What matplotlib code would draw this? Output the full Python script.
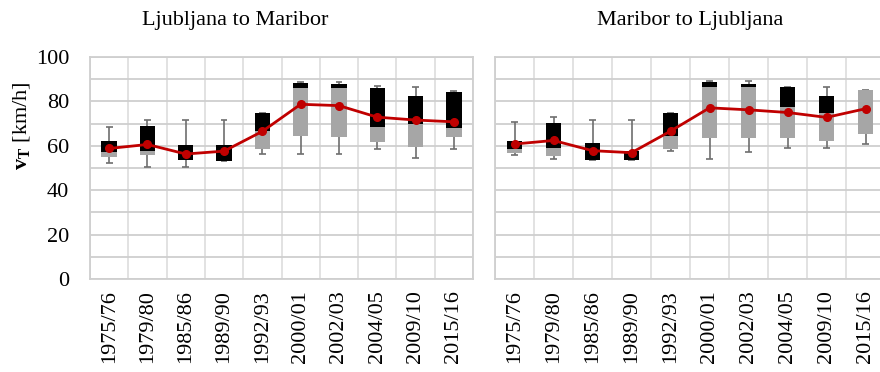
import numpy as np
import matplotlib
matplotlib.use('Agg')
import matplotlib.pyplot as plt

plt.rcParams['font.family'] = ['Liberation Serif', 'DejaVu Serif']
plt.rcParams['mathtext.fontset'] = 'custom'
plt.rcParams['mathtext.rm'] = 'Liberation Serif'
plt.rcParams['mathtext.bf'] = 'Liberation Serif:bold'

periods = ['1975/76', '1979/80', '1985/86', '1989/90', '1992/93',
           '2000/01', '2002/03', '2004/05', '2009/10', '2015/16']

# Ljubljana -> Maribor
lm_min = [52.4, 50.4, 50.4, 53.3, 56.4, 56.4, 56.4, 58.5, 54.5, 58.5]
lm_q1 = [54.8, 55.8, 53.6, 53.3, 58.4, 64.4, 64.1, 61.5, 59.6, 63.9]
lm_med = [57.0, 57.6, 53.6, 53.3, 66.8, 86.2, 86.2, 68.3, 69.6, 68.0]
lm_q3 = [62.3, 68.9, 60.2, 60.2, 74.6, 88.5, 87.9, 86.1, 82.3, 84.4]
lm_max = [68.4, 71.6, 71.6, 71.6, 74.6, 88.8, 88.8, 87.0, 86.4, 84.7]
lm_mean = [58.8, 60.6, 56.3, 57.6, 66.5, 78.7, 78.1, 72.9, 71.6, 70.8]

# Maribor -> Ljubljana
ml_min = [55.9, 54.2, 53.6, 53.5, 57.7, 54.1, 57.4, 59.1, 59.1, 60.8]
ml_q1 = [56.8, 55.4, 53.6, 53.5, 58.5, 63.7, 63.3, 63.7, 62.0, 65.4]
ml_med = [58.4, 58.8, 53.6, 53.5, 64.3, 86.6, 86.6, 77.3, 74.7, 85.0]
ml_q3 = [62.3, 70.4, 61.2, 57.5, 74.7, 88.9, 87.7, 86.6, 82.6, 85.0]
ml_max = [70.7, 73.0, 71.8, 71.8, 74.7, 89.0, 89.0, 86.6, 86.6, 85.0]
ml_mean = [60.8, 62.4, 57.8, 56.9, 66.6, 77.1, 76.2, 75.0, 72.8, 76.7]


def draw_panel(ax, wmin, q1, med, q3, wmax, mean, show_y=True):
    x = np.arange(len(periods))
    wmin, q1, med, q3, wmax = map(np.array, (wmin, q1, med, q3, wmax))
    # whiskers with caps
    ax.vlines(x, wmin, q1, color='#6e6e6e', lw=1.2, zorder=2)
    ax.vlines(x, q3, wmax, color='#6e6e6e', lw=1.2, zorder=2)
    ax.hlines(wmin, x - 0.09, x + 0.09, color='#6e6e6e', lw=1.2, zorder=2)
    ax.hlines(wmax, x - 0.09, x + 0.09, color='#6e6e6e', lw=1.2, zorder=2)
    # lower box (Q1-median) and upper box (median-Q3)
    ax.bar(x, med - q1, bottom=q1, width=0.4, color='#a6a6a6', zorder=3)
    ax.bar(x, q3 - med, bottom=med, width=0.4, color='#000000', zorder=3)
    ax.plot(x, mean, color='#c00000', lw=2, marker='o', ms=5.5, zorder=4)

    ax.set_xlim(-0.5, len(periods) - 0.5)
    ax.set_ylim(0, 100)
    ax.set_xticks(x)
    ax.set_xticklabels(periods, rotation=90, fontsize=16)
    ax.set_xticks(np.arange(len(periods) + 1) - 0.5, minor=True)
    ax.set_yticks(np.arange(0, 101, 20))
    ax.set_yticks(np.arange(0, 101, 10), minor=True)
    ax.grid(axis='y', which='both', color='#cfcfcf', lw=1.3, zorder=0)
    ax.grid(axis='x', which='minor', color='#dddddd', lw=1.2, zorder=0)
    ax.set_axisbelow(True)
    ax.tick_params(which='both', length=0)
    ax.tick_params(axis='x', pad=8)
    ax.tick_params(axis='y', pad=15, labelsize=16)
    if not show_y:
        ax.set_yticklabels([])
    for s in ax.spines.values():
        s.set_color('#cfcfcf')
        s.set_linewidth(1.3)


fig = plt.figure(figsize=(8.8, 3.72), dpi=100)
ax1 = fig.add_axes([90 / 880, 0.25, 383 / 880, 222 / 372])
ax2 = fig.add_axes([495 / 880, 0.25, 390 / 880, 222 / 372])

draw_panel(ax1, lm_min, lm_q1, lm_med, lm_q3, lm_max, lm_mean)
draw_panel(ax2, ml_min, ml_q1, ml_med, ml_q3, ml_max, ml_mean, show_y=False)

fig.text(235 / 880, 1 - 21 / 372, 'Ljubljana to Maribor', fontsize=16,
         ha='center', va='center')
fig.text(690 / 880, 1 - 21 / 372, 'Maribor to Ljubljana', fontsize=16,
         ha='center', va='center')
fig.text(21 / 880, 1 - 126 / 372, r'$\mathbf{v_T}$ [km/h]', fontsize=16,
         rotation=90, ha='center', va='center')

fig.savefig('out.png', dpi=100)
